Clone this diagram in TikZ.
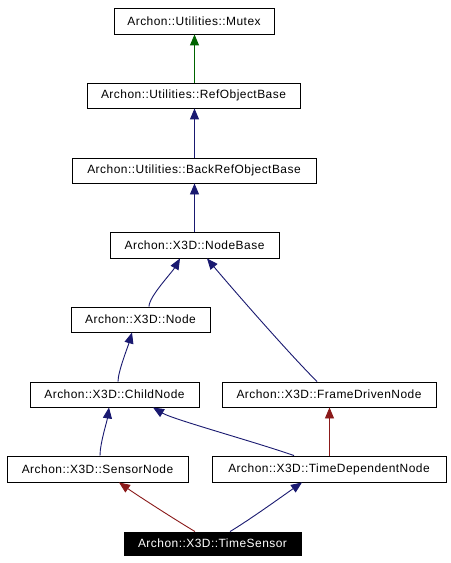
\documentclass[tikz,border=0pt]{standalone}
\usepackage{fontspec}
\setmainfont{Liberation Sans}
\newfontfamily\boxfont[LetterSpace=4]{Liberation Sans}
\usetikzlibrary{arrows.meta,calc}
\definecolor{navy}{RGB}{25,25,112}
\definecolor{dgreen}{RGB}{0,100,0}
\definecolor{dred}{RGB}{139,26,26}
\begin{document}
\begin{tikzpicture}[x=1bp,y=-1bp,
  box/.style={draw=black, line width=0.9bp, inner sep=0pt, minimum height=25bp, font=\boxfont\fontsize{12}{14}\selectfont},
  inh/.style={line width=0.9bp, {Triangle[length=11bp,width=9bp]}-},
  pub/.style={inh, draw=navy},
  prot/.style={inh, draw=dgreen},
  priv/.style={inh, draw=dred}]
\useasboundingbox (0,0) rectangle (451,563);
\fill[white] (0,0) rectangle (451,563);
\node[box, minimum width=160bp, minimum height=26bp] (mutex) at (194,21) {Archon::Utilities::Mutex};
\node[box, minimum width=213bp] (ref) at (193.5,95.5) {Archon::Utilities::RefObjectBase};
\node[box, minimum width=244bp] (back) at (194,170.5) {Archon::Utilities::BackRefObjectBase};
\node[box, minimum width=169bp, minimum height=26bp] (nb) at (194.5,245) {Archon::X3D::NodeBase};
\node[box, minimum width=139bp] (node) at (140.5,319.5) {Archon::X3D::Node};
\node[box, minimum width=169bp] (child) at (114.5,394.5) {Archon::X3D::ChildNode};
\node[box, minimum width=214bp] (frame) at (329,394.5) {Archon::X3D::FrameDrivenNode};
\node[box, minimum width=181bp, minimum height=26bp] (sensor) at (97.5,469) {Archon::X3D::SensorNode};
\node[box, minimum width=234bp, minimum height=26bp] (tdep) at (329,469) {Archon::X3D::TimeDependentNode};
\node[box, minimum width=177bp, minimum height=23bp, fill=black, text=white] (ts) at (212.5,543.5) {Archon::X3D::TimeSensor};

\draw[prot] ([xshift=0.5bp]mutex.south) -- ([xshift=1bp]ref.north);
\draw[pub] ([xshift=1bp]ref.south) -- ([xshift=0.5bp]back.north);
\draw[pub] ([xshift=0.5bp]back.south) -- (nb.north);
\draw[pub] ([xshift=-14.5bp]nb.south) .. controls +(-8,14) and +(0,-10) .. ([xshift=8.5bp]node.north);
\draw[pub] ([xshift=12.5bp]nb.south) .. controls +(20,24) and +(-30,-30) .. ([xshift=-12bp]frame.north);
\draw[pub] ([xshift=-8.5bp]node.south) .. controls +(-4,14) and +(0,-10) .. ([xshift=3.5bp]child.north);
\draw[pub] ([xshift=-5.5bp]child.south) .. controls +(-2,14) and +(0,-12) .. ([xshift=2.5bp]sensor.north);
\draw[pub] ([xshift=38.5bp]child.south) .. controls +(20,12) and +(-40,-14) .. ([xshift=-35bp]tdep.north);
\draw[priv] ([xshift=0.5bp]frame.south) -- ([xshift=0.5bp]tdep.north);
\draw[priv] ([xshift=21.5bp]sensor.south) .. controls +(20,14) and +(-20,-12) .. ([xshift=-17.5bp]ts.north);
\draw[pub] ([xshift=-27bp]tdep.south) .. controls +(-20,14) and +(20,-12) .. ([xshift=17.5bp]ts.north);
\end{tikzpicture}
\end{document}
